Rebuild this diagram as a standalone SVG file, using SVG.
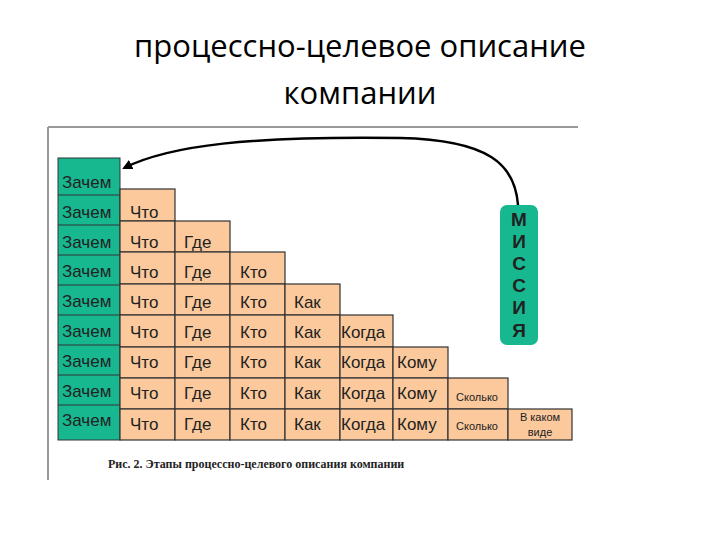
<svg xmlns="http://www.w3.org/2000/svg" width="720" height="540" viewBox="0 0 720 540">
<style>
.t{font-family:"Open Sans","Liberation Sans",sans-serif;font-size:31px;fill:#000;text-anchor:middle}
.g{fill:#17b890;stroke:#333;stroke-width:1}
.o{fill:#fbc99c;stroke:#333;stroke-width:1.2}
.c{font-family:"Liberation Sans",sans-serif;font-size:17px;fill:#222}
.s{font-family:"Liberation Sans",sans-serif;font-size:11px;fill:#222;text-anchor:middle}
.m{font-family:"Liberation Sans",sans-serif;font-size:19px;font-weight:bold;fill:#222;text-anchor:middle}
</style>
<defs><marker id="ah" markerWidth="10" markerHeight="10" refX="8" refY="5" orient="auto" markerUnits="userSpaceOnUse"><path d="M0,0 L10,5 L0,10 z" fill="#000"/></marker></defs>
<text class="t" x="360" y="57">процессно-целевое описание</text>
<text class="t" x="360" y="104">компании</text>
<g id="frame"><path d="M48,127 H578 M48,127 V480" stroke="#999" stroke-width="2" fill="none"/></g>
<g id="zachem">
<rect class="g" x="58" y="158" width="62" height="282"/>
<path d="M58,195 H120 M58,225 H120 M58,255 H120 M58,285 H120 M58,315 H120 M58,345 H120 M58,375 H120 M58,405 H120" stroke="#333"/>
<g class="c"><text x="62" y="188">Зачем</text><text x="62" y="218">Зачем</text><text x="62" y="248">Зачем</text><text x="62" y="277">Зачем</text><text x="62" y="307">Зачем</text><text x="62" y="337">Зачем</text><text x="62" y="367">Зачем</text><text x="62" y="397">Зачем</text><text x="62" y="426">Зачем</text></g>
</g>
<g id="cells">
<rect class="o" x="120" y="189" width="55" height="32"/><rect class="o" x="120" y="221" width="55" height="31"/><rect class="o" x="120" y="252" width="55" height="32"/><rect class="o" x="120" y="284" width="55" height="31"/><rect class="o" x="120" y="315" width="55" height="32"/><rect class="o" x="120" y="347" width="55" height="31"/><rect class="o" x="120" y="378" width="55" height="31"/><rect class="o" x="120" y="409" width="55" height="31"/>
<rect class="o" x="175" y="221" width="55" height="31"/><rect class="o" x="175" y="252" width="55" height="32"/><rect class="o" x="175" y="284" width="55" height="31"/><rect class="o" x="175" y="315" width="55" height="32"/><rect class="o" x="175" y="347" width="55" height="31"/><rect class="o" x="175" y="378" width="55" height="31"/><rect class="o" x="175" y="409" width="55" height="31"/>
<rect class="o" x="230" y="252" width="55" height="32"/><rect class="o" x="230" y="284" width="55" height="31"/><rect class="o" x="230" y="315" width="55" height="32"/><rect class="o" x="230" y="347" width="55" height="31"/><rect class="o" x="230" y="378" width="55" height="31"/><rect class="o" x="230" y="409" width="55" height="31"/>
<rect class="o" x="285" y="284" width="55" height="31"/><rect class="o" x="285" y="315" width="55" height="32"/><rect class="o" x="285" y="347" width="55" height="31"/><rect class="o" x="285" y="378" width="55" height="31"/><rect class="o" x="285" y="409" width="55" height="31"/>
<rect class="o" x="340" y="315" width="53" height="32"/><rect class="o" x="340" y="347" width="53" height="31"/><rect class="o" x="340" y="378" width="53" height="31"/><rect class="o" x="340" y="409" width="53" height="31"/>
<rect class="o" x="393" y="347" width="55" height="31"/><rect class="o" x="393" y="378" width="55" height="31"/><rect class="o" x="393" y="409" width="55" height="31"/>
<rect class="o" x="448" y="378" width="60" height="31"/><rect class="o" x="448" y="409" width="60" height="31"/>
<rect class="o" x="508" y="409" width="64" height="31"/>
<g class="c">
<text x="130" y="218">Что</text><text x="130" y="248">Что</text><text x="130" y="278">Что</text><text x="130" y="308">Что</text><text x="130" y="338">Что</text><text x="130" y="368">Что</text><text x="130" y="399">Что</text><text x="130" y="430">Что</text>
<text x="184" y="248">Где</text><text x="184" y="278">Где</text><text x="184" y="308">Где</text><text x="184" y="338">Где</text><text x="184" y="368">Где</text><text x="184" y="399">Где</text><text x="184" y="430">Где</text>
<text x="240" y="278">Кто</text><text x="240" y="308">Кто</text><text x="240" y="338">Кто</text><text x="240" y="368">Кто</text><text x="240" y="399">Кто</text><text x="240" y="430">Кто</text>
<text x="294" y="308">Как</text><text x="294" y="338">Как</text><text x="294" y="368">Как</text><text x="294" y="399">Как</text><text x="294" y="430">Как</text>
<text x="341" y="338">Когда</text><text x="341" y="368">Когда</text><text x="341" y="399">Когда</text><text x="341" y="430">Когда</text>
<text x="397" y="368">Кому</text><text x="397" y="399">Кому</text><text x="397" y="430">Кому</text>
</g>
<text class="s" x="477" y="401">Сколько</text><text class="s" x="477" y="430">Сколько</text>
<text class="s" x="540" y="421">В каком</text><text class="s" x="540" y="436">виде</text>
</g>
<g id="mission">
<rect x="500" y="205" width="38" height="140" rx="7" fill="#17b890"/>
<g class="m"><text x="519" y="226">М</text><text x="519" y="248">И</text><text x="519" y="270">С</text><text x="519" y="292">С</text><text x="519" y="314">И</text><text x="519" y="337">Я</text></g>
</g>
<g id="connectors"><path d="M518,205 C515,165 490,140 400,138 C250,136 170,145 124,168" fill="none" stroke="#000" stroke-width="2.5" marker-end="url(#ah)"/></g>
<text x="108" y="468" font-family="Liberation Serif,serif" font-size="12" font-weight="bold" fill="#222">Рис. 2. Этапы процессно-целевого описания компании</text>
</svg>
